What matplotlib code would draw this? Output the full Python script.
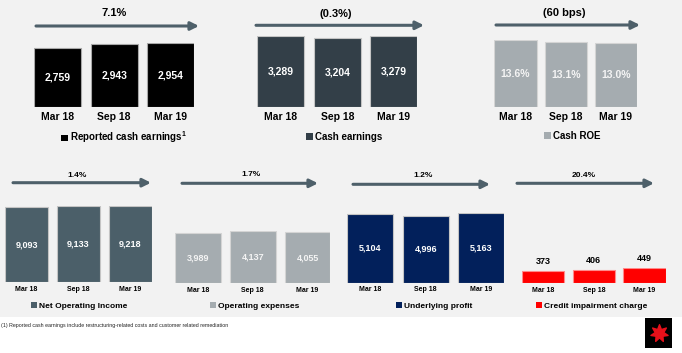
import matplotlib
matplotlib.use('Agg')
import matplotlib.pyplot as plt
from matplotlib.patches import Rectangle, Patch, FancyArrowPatch

plt.rcParams['font.family'] = ['Liberation Sans', 'DejaVu Sans']
plt.rcParams['mathtext.fontset'] = 'custom'
plt.rcParams['mathtext.bf'] = 'Liberation Sans:bold'

W, H = 682, 353

# data
periods = ['Mar 18', 'Sep 18', 'Mar 19']
reported_cash_earnings = [2759, 2943, 2954]
cash_earnings = [3289, 3204, 3279]
cash_roe = [13.6, 13.1, 13.0]
net_operating_income = [9093, 9133, 9218]
operating_expenses = [3989, 4137, 4055]
underlying_profit = [5104, 4996, 5163]
credit_impairment = [373, 406, 449]

changes = ['7.1%', '(0.3%)', '(60 bps)', '1.4%', '1.7%', '1.2%', '20.4%']
legend_labels = ['Reported cash earnings$^{\\mathbf{1}}$', 'Cash earnings', 'Cash ROE',
                 'Net Operating Income', 'Operating expenses', 'Underlying profit',
                 'Credit impairment charge']
footnote = '(1) Reported cash earnings include restructuring-related costs and customer related remediation'

series = [reported_cash_earnings, cash_earnings, cash_roe, net_operating_income,
          operating_expenses, underlying_profit, credit_impairment]
fmts = ['{:,.0f}', '{:,.0f}', '{:.1f}%', '{:,.0f}', '{:,.0f}', '{:,.0f}', '{:,.0f}']

# layout in pixels: x left, x right, bar bottom, top of tallest bar, bar width
boxes = [(34, 194.3, 107.3, 43.3, 47), (257.3, 417.3, 107.3, 36, 47),
         (494.3, 637, 107.3, 40, 42.3), (5, 152, 282.3, 205.7, 43.3),
         (175.3, 330.3, 283.3, 230.7, 45.7), (347.3, 504, 282.7, 213.3, 46),
         (522, 665.7, 283.3, 268.3, 42.3)]
arrows = [(36, 199, 26), (256, 424, 25.3), (496, 640, 25), (13, 151, 182.7),
          (182, 318, 183.3), (353, 490, 184.3), (517, 654, 183.3)]
title_pos = [(114.3, 13.3), (335.7, 14), (564, 12.7), (77, 175.7), (251, 175),
             (422.7, 175.7), (584, 175.7)]
legend_pos = [(61, 137.5), (306, 136.7), (544, 136), (31, 305.7), (210, 305.7),
              (396, 305.7), (536, 305.7)]
colors = ['#000000', '#333f48', '#a5acb0', '#4b5f69', '#a5acb0', '#02205b', '#ff0000']
edges = ['#a8a8a8', '#c4c4c4', '#d4d4d4', '#c4c4c4', '#d4d4d4', '#c4c4c4', '#ff8a8a']
value_colors = ['white', 'white', '#f4f4f4', 'white', '#f4f4f4', 'white', 'black']

fig = plt.figure(figsize=(W / 100, H / 100), dpi=100)
fig.patch.set_facecolor('white')
fig.patches.append(Rectangle((0, 1 - 317 / H), 1, 317 / H, transform=fig.transFigure,
                             facecolor='#f2f2f2', edgecolor='none', zorder=-10))

for k in range(7):
    x0, x1, yb, yt, bw = boxes[k]
    top = k < 3
    vals = series[k]
    sp = (x1 - x0 - bw) / 2
    w = bw / sp
    ax = fig.add_axes([x0 / W, 1 - yb / H, (x1 - x0) / W, (yb - yt) / H])
    ax.set_axis_off()
    ax.bar(range(3), vals, width=w, color=colors[k], edgecolor=edges[k], linewidth=0.8)
    ax.set_xlim(-w / 2, 2 + w / 2)
    ax.set_ylim(0, max(vals))

    lab_fs = 7.5 if top else 5
    val_fs = 7.5 if top else 6.5
    lab_off = -6.8 if top else -5.0
    for i, v in enumerate(vals):
        ax.annotate(periods[i], (i, 0), xytext=(0, lab_off), textcoords='offset points',
                    ha='center', va='center', fontsize=lab_fs, fontweight='bold',
                    annotation_clip=False)
        if k == 6:
            ax.annotate(fmts[k].format(v), (i, v), xytext=(0, 6.8), textcoords='offset points',
                        ha='center', va='center', fontsize=val_fs, fontweight='bold',
                        color=value_colors[k], annotation_clip=False)
        else:
            ax.text(i, v / 2, fmts[k].format(v), ha='center', va='center', fontsize=val_fs,
                    fontweight='bold', color=value_colors[k])

    lx, ly = legend_pos[k]
    fig.legend(handles=[Patch(facecolor=colors[k], edgecolor='none')],
               labels=[legend_labels[k]], loc='center left',
               bbox_to_anchor=(lx / W, 1 - ly / H), frameon=False,
               handlelength=0.7, handleheight=0.7, handletextpad=0.25,
               borderpad=0, borderaxespad=0,
               prop={'weight': 'bold', 'size': 7 if top else 6})

    ax0, ax1, ay = arrows[k]
    fig.patches.append(FancyArrowPatch((ax0 / W, 1 - ay / H), (ax1 / W, 1 - ay / H),
                                       transform=fig.transFigure, arrowstyle='-|>',
                                       mutation_scale=12, lw=2.2, color='#4e606a',
                                       shrinkA=0, shrinkB=0))
    tx, ty = title_pos[k]
    fig.text(tx / W, 1 - ty / H, changes[k], ha='center', va='center',
             fontsize=8 if top else 6, fontweight='bold')

fig.text(1 / W, 1 - 325.5 / H, footnote, ha='left', va='center', fontsize=3.8, color='#222222')

# logo
lg = fig.add_axes([645 / W, 1 - 348 / H, 27 / W, 30 / H])
lg.set_facecolor('black')
lg.set_xticks([])
lg.set_yticks([])
for s in lg.spines.values():
    s.set_visible(False)
lg.scatter([0], [0], marker=(7, 1, 0), s=160, color='#e8101a')
lg.set_xlim(-1, 1)
lg.set_ylim(-1, 1)

fig.savefig('out.png', dpi=100, facecolor='white')
